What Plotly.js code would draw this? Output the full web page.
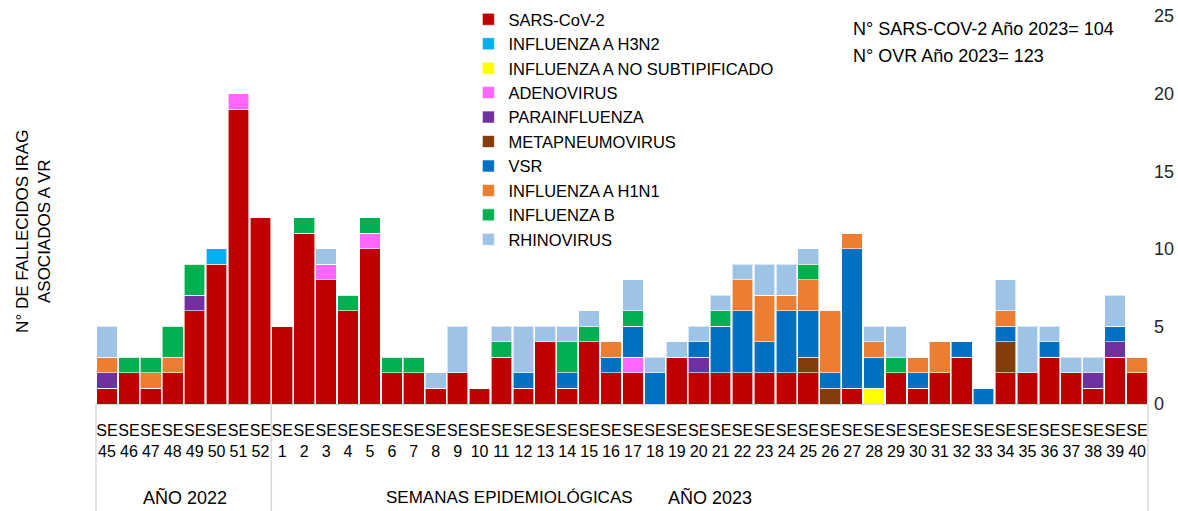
<!DOCTYPE html>
<html>
<head>
<meta charset="utf-8">
<script src="https://cdn.plot.ly/plotly-3.0.1.min.js"></script>
<style>html,body{margin:0;padding:0;background:#fff;}#chart{width:1178px;height:511px;}</style>
</head>
<body>
<div id="chart"></div>
<script>
// Weeks: SE45-SE52 (2022), SE1-SE40 (2023)
const weeks = [45,46,47,48,49,50,51,52,
  1,2,3,4,5,6,7,8,9,10,11,12,13,14,15,16,17,18,19,20,
  21,22,23,24,25,26,27,28,29,30,31,32,33,34,35,36,37,38,39,40];
const categories = weeks.map(w => 'SE<br>' + w);

const sarsCov2   = [1,2,1,2,6,9,19,12, 5,11,8,6,10,2,2,1,2,1, 3,1,4,1,4,2,2,0,3,2, 2,2,2,2,2,0,1,0,2,1, 2,3,0,2,2,3,2,1,3,2];
const fluAH3N2   = [0,0,0,0,0,1,0,0, 0,0,0,0,0,0,0,0,0,0, 0,0,0,0,0,0,0,0,0,0, 0,0,0,0,0,0,0,0,0,0, 0,0,0,0,0,0,0,0,0,0];
const fluANoSub  = [0,0,0,0,0,0,0,0, 0,0,0,0,0,0,0,0,0,0, 0,0,0,0,0,0,0,0,0,0, 0,0,0,0,0,0,0,1,0,0, 0,0,0,0,0,0,0,0,0,0];
const adenovirus = [0,0,0,0,0,0,1,0, 0,0,1,0,1,0,0,0,0,0, 0,0,0,0,0,0,1,0,0,0, 0,0,0,0,0,0,0,0,0,0, 0,0,0,0,0,0,0,0,0,0];
const parainfl   = [1,0,0,0,1,0,0,0, 0,0,0,0,0,0,0,0,0,0, 0,0,0,0,0,0,0,0,0,1, 0,0,0,0,0,0,0,0,0,0, 0,0,0,0,0,0,0,1,1,0];
const metapneumo = [0,0,0,0,0,0,0,0, 0,0,0,0,0,0,0,0,0,0, 0,0,0,0,0,0,0,0,0,0, 0,0,0,0,1,1,0,0,0,0, 0,0,0,2,0,0,0,0,0,0];
const vsr        = [0,0,0,0,0,0,0,0, 0,0,0,0,0,0,0,0,0,0, 0,1,0,1,0,1,2,2,0,1, 3,4,2,4,3,1,9,2,0,1, 0,1,1,1,0,1,0,0,1,0];
const fluAH1N1   = [1,0,1,1,0,0,0,0, 0,0,0,0,0,0,0,0,0,0, 0,0,0,0,0,1,0,0,0,0, 0,2,3,1,2,4,1,1,0,1, 2,0,0,1,0,0,0,0,0,1];
const fluB       = [0,1,1,2,2,0,0,0, 0,1,0,1,1,1,1,0,0,0, 1,0,0,2,1,0,1,0,0,0, 1,0,0,0,1,0,0,0,1,0, 0,0,0,0,0,0,0,0,0,0];
const rhinovirus = [2,0,0,0,0,0,0,0, 0,0,1,0,0,0,0,1,3,0, 1,3,1,1,1,0,2,1,1,1, 1,1,2,2,1,0,0,1,2,0, 0,0,0,2,3,1,1,1,2,0];

const seriesNames = ['SARS-CoV-2','INFLUENZA A H3N2','INFLUENZA A NO SUBTIPIFICADO','ADENOVIRUS','PARAINFLUENZA','METAPNEUMOVIRUS','VSR','INFLUENZA A H1N1','INFLUENZA B','RHINOVIRUS'];
const seriesValues = [sarsCov2, fluAH3N2, fluANoSub, adenovirus, parainfl, metapneumo, vsr, fluAH1N1, fluB, rhinovirus];
const seriesColors = ['#C00000','#00B0F0','#FFFF00','#FF66FF','#7030A0','#843C0C','#0070C0','#ED7D31','#00B050','#9DC3E6'];

const FONT = '"Liberation Sans", Arial, sans-serif';
const traces = seriesNames.map((n, i) => ({
  type: 'bar', name: n, x: categories, y: seriesValues[i],
  marker: {color: seriesColors[i], line: {color: 'rgba(255,255,255,0.6)', width: 1}}
}));

const layout = {
  width: 1178, height: 511,
  margin: {l: 96, r: 30, t: 16, b: 107, autoexpand: false},
  barmode: 'stack', bargap: 0.06,
  paper_bgcolor: '#fff', plot_bgcolor: '#fff',
  font: {family: FONT, color: '#000'},
  showlegend: true,
  legend: {x: 0.354, xanchor: 'left', y: 1.036, yanchor: 'top', traceorder: 'normal',
           font: {size: 16.5, family: FONT, color: '#000'}, bgcolor: 'rgba(0,0,0,0)'},
  xaxis: {type: 'category', showgrid: false, zeroline: false, showline: true, linecolor: '#d9d9d9', linewidth: 1,
          ticks: '', tickangle: 0, ticklabelstandoff: 12, tickfont: {size: 16, family: FONT, color: '#000'}, automargin: false},
  yaxis: {side: 'right', range: [0, 25], dtick: 5, showgrid: false, zeroline: false, showline: false,
          ticks: '', ticklabelstandoff: 5, tickfont: {size: 18, family: FONT, color: '#262626'}, automargin: false},
  shapes: [
    {type: 'line', xref: 'paper', yref: 'paper', x0: 0, x1: 0, y0: 0, y1: -0.276, line: {color: '#d9d9d9', width: 1.5}},
    {type: 'line', xref: 'x', yref: 'paper', x0: 7.5, x1: 7.5, y0: 0, y1: -0.276, line: {color: '#d9d9d9', width: 1.5}},
    {type: 'line', xref: 'paper', yref: 'paper', x0: 1, x1: 1, y0: 0, y1: -0.276, line: {color: '#d9d9d9', width: 1.5}}
  ],
  annotations: [
    {xref: 'paper', yref: 'paper', x: 0.0846, xanchor: 'center', y: -0.2397, yanchor: 'middle', text: 'AÑO 2022', showarrow: false, font: {size: 18, family: FONT}},
    {xref: 'paper', yref: 'paper', x: 0.393, xanchor: 'center', y: -0.2397, yanchor: 'middle', text: 'SEMANAS EPIDEMIOLÓGICAS', showarrow: false, font: {size: 17, family: FONT}},
    {xref: 'paper', yref: 'paper', x: 0.584, xanchor: 'center', y: -0.2397, yanchor: 'middle', text: 'AÑO 2023', showarrow: false, font: {size: 18, family: FONT}},
    {xref: 'paper', yref: 'paper', x: 0.718, xanchor: 'left', y: 0.9665, yanchor: 'middle', text: 'N° SARS-COV-2 Año 2023= 104', showarrow: false, font: {size: 18, family: FONT}},
    {xref: 'paper', yref: 'paper', x: 0.718, xanchor: 'left', y: 0.897, yanchor: 'middle', text: 'N° OVR Año 2023= 123', showarrow: false, font: {size: 18, family: FONT}},
    {xref: 'paper', yref: 'paper', x: -0.059, xanchor: 'center', y: 0.446, yanchor: 'middle', textangle: -90, text: 'N° DE FALLECIDOS IRAG<br>ASOCIADOS A VR', showarrow: false, font: {size: 17, family: FONT}}
  ]
};

Plotly.newPlot('chart', traces, layout, {displayModeBar: false, staticPlot: true});
</script>
</body>
</html>
